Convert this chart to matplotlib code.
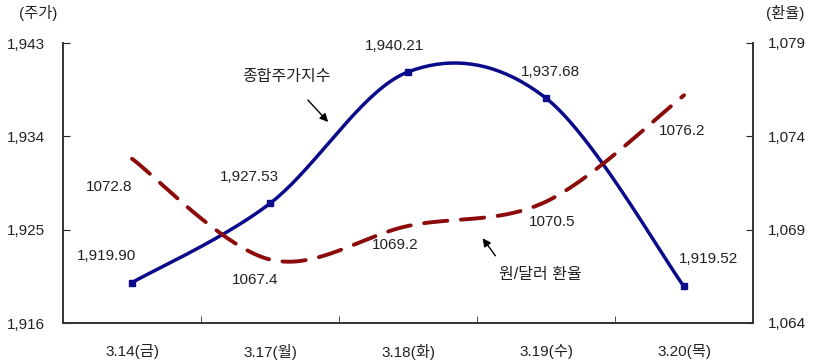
import numpy as np
import matplotlib
matplotlib.use("Agg")
from matplotlib import pyplot as plt

plt.rcParams['font.family'] = ['Liberation Sans Narrow', 'Liberation Sans', 'Noto Sans CJK KR', 'DejaVu Sans']

dates = ['3.14(금)', '3.17(월)', '3.18(화)', '3.19(수)', '3.20(목)']
kospi = [1919.90, 1927.53, 1940.21, 1937.68, 1919.52]
won = [1072.8, 1067.4, 1069.2, 1070.5, 1076.2]
kospi_labels = ['1,919.90', '1,927.53', '1,940.21', '1,937.68', '1,919.52']
won_labels = ['1072.8', '1067.4', '1069.2', '1070.5', '1076.2']
left_ticks = [1916, 1925, 1934, 1943]
right_ticks = [1064, 1069, 1074, 1079]

BLUE = '#0a0a8a'
RED = '#8b0a0a'
TXT = '#222222'


def smooth(y, n=40):
    # excel-like smoothing: bezier with catmull-rom tangents
    y = np.asarray(y, dtype=float)
    x = np.arange(len(y), dtype=float)
    xs, ys = [], []
    for i in range(len(y) - 1):
        p0 = (x[i], y[i])
        p3 = (x[i + 1], y[i + 1])
        prev = (x[i - 1], y[i - 1]) if i > 0 else p0
        nxt = (x[i + 2], y[i + 2]) if i + 2 < len(y) else p3
        p1 = (p0[0] + (p3[0] - prev[0]) / 6, p0[1] + (p3[1] - prev[1]) / 6)
        p2 = (p3[0] - (nxt[0] - p0[0]) / 6, p3[1] - (nxt[1] - p0[1]) / 6)
        t = np.linspace(0, 1, n)
        for k in range(2):
            c = ((1 - t) ** 3 * p0[k] + 3 * (1 - t) ** 2 * t * p1[k]
                 + 3 * (1 - t) * t ** 2 * p2[k] + t ** 3 * p3[k])
            (xs if k == 0 else ys).append(c)
    return np.concatenate(xs), np.concatenate(ys)


fig = plt.figure(figsize=(8.16, 3.64), dpi=100)
ax = fig.add_axes([63 / 816, 1 - 323 / 364, 690 / 816, 280 / 364])
ax2 = ax.twinx()

x = np.arange(len(dates))
sx, sy = smooth(kospi)
ax.plot(sx, sy, color=BLUE, lw=2.5, zorder=3)
ax.plot(x, kospi, ls='none', marker='s', ms=5, color=BLUE, zorder=4)

rx, ry = smooth(won)
ax2.plot(rx, ry, color=RED, lw=2.8, dashes=(6, 3.5), dash_capstyle='round')

ax.set_xlim(-0.5, 4.5)
ax.set_ylim(1916, 1943)
ax2.set_ylim(1064, 1079)
ax.set_yticks(left_ticks)
ax.set_yticklabels([f'{v:,}' for v in left_ticks])
ax2.set_yticks(right_ticks)
ax2.set_yticklabels([f'{v:,}' for v in right_ticks])

ax.set_xticks(x)
ax.set_xticklabels(dates)
ax.set_xticks([0.5, 1.5, 2.5, 3.5], minor=True)
ax.tick_params(axis='x', which='major', length=0, pad=15, labelsize=11, colors=TXT)
ax.tick_params(axis='x', which='minor', direction='in', length=5, color='#333333')
ax.tick_params(axis='y', direction='in', length=5, pad=13, labelsize=11, colors=TXT)
ax2.tick_params(axis='y', direction='in', length=5, pad=11, labelsize=11, colors=TXT)

for a in (ax, ax2):
    a.spines['top'].set_visible(False)
    for s in ('left', 'right', 'bottom'):
        a.spines[s].set_color('#333333')
        a.spines[s].set_linewidth(1.2)

kospi_off = [(-26, 27), (-21, 26), (-14, 26), (4, 26), (25, 27)]
won_off = [(-23, -28), (-15, -20), (-13, -19), (6, -20), (-2, -36)]
for i in range(len(dates)):
    ax.annotate(kospi_labels[i], (x[i], kospi[i]), xytext=kospi_off[i],
                textcoords='offset pixels', ha='center', va='center',
                fontsize=11, color=TXT)
    ax2.annotate(won_labels[i], (x[i], won[i]), xytext=won_off[i],
                 textcoords='offset pixels', ha='center', va='center',
                 fontsize=11, color=TXT)

ax.annotate('', xy=(330 / 816, 1 - 124 / 364), xytext=(306 / 816, 1 - 98 / 364),
            xycoords='figure fraction', textcoords='figure fraction',
            arrowprops=dict(arrowstyle='-|>', color='black', lw=1, mutation_scale=12))
fig.text(286 / 816, 1 - 76 / 364, '종합주가지수', ha='center', va='center', fontsize=11.5, color=TXT)
ax.annotate('', xy=(481 / 816, 1 - 236 / 364), xytext=(497 / 816, 1 - 258 / 364),
            xycoords='figure fraction', textcoords='figure fraction',
            arrowprops=dict(arrowstyle='-|>', color='black', lw=1, mutation_scale=12))
fig.text(540 / 816, 1 - 275 / 364, '원/달러 환율', ha='center', va='center', fontsize=11.5, color=TXT)

fig.text(38 / 816, 1 - 13 / 364, '(주가)', ha='center', va='center', fontsize=11, color=TXT)
fig.text(785 / 816, 1 - 13 / 364, '(환율)', ha='center', va='center', fontsize=11, color=TXT)

fig.savefig('out.png', dpi=100)
